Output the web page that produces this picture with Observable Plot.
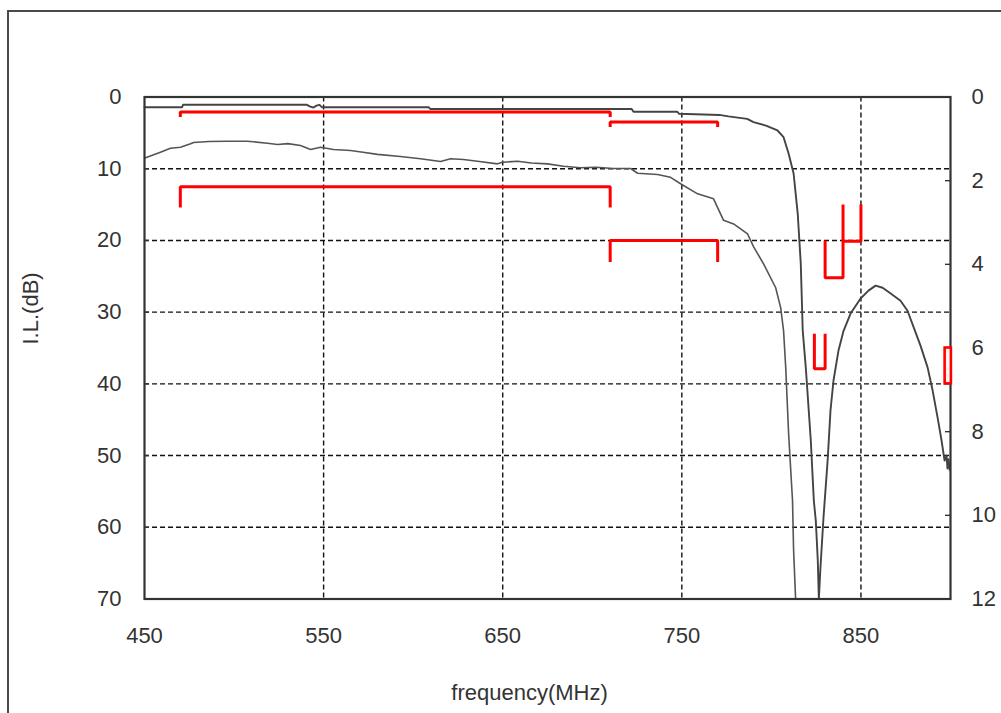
<!DOCTYPE html>
<html><head><meta charset="utf-8">
<script src="https://cdn.jsdelivr.net/npm/d3@7"></script>
<script src="https://cdn.jsdelivr.net/npm/@observablehq/plot@0.6"></script>
<style>
html,body{margin:0;padding:0;background:#fff;overflow:hidden;}
#wrap{position:relative;width:1001px;height:713px;overflow:hidden;background:#fff;}
#border{position:absolute;left:7px;top:10px;width:1100px;height:800px;border:2px solid #4a4a4a;pointer-events:none;}
</style></head><body>
<div id="wrap"><div id="chart"></div><div id="border"></div></div>
<script>
// ---- data ----
const xTickLabels = [450, 550, 650, 750, 850];
const xGridTicks = [550, 650, 750, 850];
const leftTicks = [0, 10, 20, 30, 40, 50, 60, 70];
const leftGrid = [10, 20, 30, 40, 50, 60];
const rightTicks = [0, 2, 4, 6, 8, 10, 12];
const rightMax = 12, leftMax = 70;

// upper trace (steep filter)
const upperFreq = [450, 471, 471.5, 540.7, 542.5, 544.4, 546, 547.7, 549, 608.6, 609.5, 722, 723, 747.5, 748.5, 771, 776, 786.5, 790, 797, 803.4, 806.8, 809.6, 812.4, 814.7, 816.4, 817.5, 819.2, 822, 823.7, 824.8, 825.9, 826.5, 827.4, 829.1, 831.4, 833, 834.7, 837.5, 840.3, 844.2, 849.8, 854.2, 858.2, 862.1, 866.6, 872.1, 876, 879.4, 883.3, 887.2, 890, 892.8, 895, 896.7, 897.8, 898.3, 898.9, 899.5];
const upperLoss = [1.42, 1.42, 1.09, 1.09, 1.35, 1.46, 1.2, 1.09, 1.42, 1.42, 1.67, 1.67, 2.06, 2.06, 2.34, 2.5, 2.7, 3.05, 3.5, 4.0, 4.67, 5.6, 7.88, 10.67, 16.25, 23.2, 32.6, 37.7, 47.9, 56.3, 59.1, 64.6, 70, 65.6, 58.6, 50.7, 43.7, 39.5, 35.3, 32.6, 30.2, 28.1, 27.0, 26.3, 26.6, 27.4, 28.4, 29.8, 32.1, 34.7, 37.7, 40.9, 44.7, 47.9, 50.7, 50.0, 51.8, 50.5, 52];

// lower trace
const lowerFreq = [450.6, 458.9, 464.5, 470.1, 475.7, 477.4, 486, 496.3, 507.5, 518.7, 524.3, 530, 537.1, 542.7, 548.3, 555.5, 565, 572, 580.1, 592.9, 604.1, 615.3, 620.9, 628.1, 637, 647.1, 649.9, 658.3, 666, 675, 684, 693.4, 702, 711.9, 721.4, 725.3, 736.4, 743.7, 749.3, 758.8, 767.7, 773.3, 778.9, 786.7, 790.1, 795.7, 802.4, 805.2, 806.8, 808, 809.6, 811.8, 812.4, 813.5];
const lowerLoss = [8.48, 7.7, 7.14, 7.0, 6.53, 6.34, 6.2, 6.16, 6.16, 6.44, 6.62, 6.5, 6.76, 7.32, 7.0, 7.32, 7.46, 7.7, 8.0, 8.3, 8.62, 9.0, 8.62, 8.72, 9.0, 9.32, 9.09, 8.95, 9.2, 9.32, 9.65, 9.87, 9.8, 9.97, 9.97, 10.63, 10.8, 11.2, 12.1, 13.5, 14.2, 17.2, 17.7, 19.1, 20.9, 23.3, 26.6, 29.4, 32.6, 37.7, 46.9, 56.3, 63.2, 69.9];

// spec masks (freq, dB)
const maskPassA = [[470, 2.8], [470, 2.1], [710, 2.1], [710, 2.8]];
const maskPassB = [[710, 4.2], [710, 3.5], [770, 3.5], [770, 4.2]];
const maskRejA = [[470, 15.4], [470, 12.5], [710, 12.5], [710, 15.4]];
const maskRejB = [[710, 23], [710, 20], [770, 20], [770, 23]];
const maskStop = [[830, 20], [830, 25.2], [840, 25.2], [840, 15], [840, 20.1], [850, 20.1], [850, 15]];
const maskNotch = [[824, 33], [824, 37.9], [830, 37.9], [830, 33]];
const maskEdge = [{x1: 897, x2: 900.5, y1: 35, y2: 40}];

// ---- build ----
const upper = upperFreq.map((f, i) => ({f, v: upperLoss[i]}));
const lower = lowerFreq.map((f, i) => ({f, v: lowerLoss[i]}));
const masks = [maskPassA, maskPassB, maskRejA, maskRejB, maskStop, maskNotch]
  .flatMap((m, k) => m.map(([f, v]) => ({f, v, k})));
const toLeft = r => r * leftMax / rightMax;

const W = 1001, H = 713, mL = 144, mR = 51, mT = 96.5, mB = 114.5;
const plotW = W - mL - mR;
const FS = 22;

const chart = Plot.plot({
  width: W, height: H,
  marginLeft: mL, marginRight: mR, marginTop: mT, marginBottom: mB,
  style: {fontFamily: "'Liberation Sans', Arial, sans-serif", fontSize: FS + "px", color: "#333", background: "transparent"},
  x: {domain: [450, 900], label: null},
  y: {domain: [0, 70], reverse: true, label: null},
  marks: [
    Plot.gridX(xGridTicks, {stroke: "#111", strokeOpacity: 1, strokeWidth: 1.4, strokeDasharray: "5,3"}),
    Plot.gridY(leftGrid, {stroke: "#111", strokeOpacity: 1, strokeWidth: 1.4, strokeDasharray: "5,3"}),
    Plot.ruleY(leftTicks, {stroke: "#333", strokeWidth: 1.4, insetRight: plotW - 5}),
    Plot.ruleY(rightTicks.map(toLeft), {stroke: "#333", strokeWidth: 1.4, insetLeft: plotW - 5}),
    Plot.line(lower, {x: "f", y: "v", stroke: "#555", strokeWidth: 1.6}),
    Plot.line(upper, {x: "f", y: "v", stroke: "#444", strokeWidth: 1.9}),
    Plot.frame({stroke: "#333", strokeWidth: 2.2}),
    Plot.line(masks, {x: "f", y: "v", z: "k", stroke: "#ff0000", strokeWidth: 3, strokeLinejoin: "miter", strokeLinecap: "butt"}),
    Plot.rect(maskEdge, {x1: "x1", x2: "x2", y1: "y1", y2: "y2", stroke: "#ff0000", fill: "#fff4f4", strokeWidth: 2.6}),
    Plot.axisY(leftTicks, {anchor: "left", tickSize: 0, tickPadding: 23, fontSize: FS, fill: "#333"}),
    Plot.axisY(rightTicks.map(toLeft), {anchor: "right", tickSize: 0, tickPadding: 21, fontSize: FS, fill: "#333", tickFormat: d => String(Math.round(d * rightMax / leftMax))}),
    Plot.axisX(xTickLabels, {anchor: "bottom", tickSize: 0, tickPadding: 28, fontSize: FS, fill: "#333"}),
    Plot.text(["frequency(MHz)"], {frameAnchor: "bottom", dx: -18, dy: 101, fontSize: FS, fill: "#333"}),
    Plot.text(["I.L.(dB)"], {frameAnchor: "left", rotate: -90, dx: -114, dy: -3.5, fontSize: FS, fill: "#333"})
  ]
});
document.getElementById("chart").appendChild(chart);
</script>
</body></html>
